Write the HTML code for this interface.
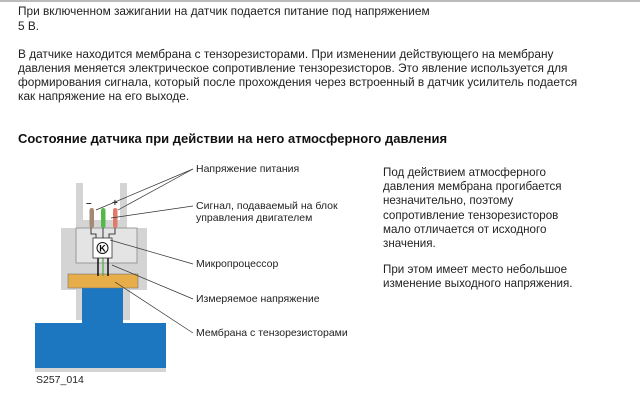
<!DOCTYPE html>
<html><head><meta charset="utf-8"><style>
body{margin:0;width:640px;height:412px;background:#fff;position:relative;overflow:hidden;font-family:"Liberation Sans","DejaVu Sans",sans-serif;color:#222}
.t{position:absolute;font-size:11.85px;white-space:nowrap;line-height:14px}
.r{position:absolute;font-size:11.6px;white-space:nowrap;line-height:14px}
.h{position:absolute;font-size:13px;font-weight:bold;white-space:nowrap;color:#111}
.l{position:absolute;font-size:10.5px;white-space:nowrap;line-height:12px}
</style></head><body>
<div style="position:absolute;left:0;top:0;width:640px;height:2px;background:#bbb"></div>
<div class="t" style="left:18px;top:4px">При включенном зажигании на датчик подается питание под напряжением</div>
<div class="t" style="left:18px;top:19px">5 В.</div>
<div class="t" style="left:18px;top:47px">В датчике находится мембрана с тензорезисторами. При изменении действующего на мембрану</div>
<div class="t" style="left:18px;top:61px">давления меняется электрическое сопротивление тензорезисторов. Это явление используется для</div>
<div class="t" style="left:18px;top:75px">формирования сигнала, который после прохождения через встроенный в датчик усилитель подается</div>
<div class="t" style="left:18px;top:89px">как напряжение на его выходе.</div>
<div class="h" style="left:18px;top:131px">Состояние датчика при действии на него атмосферного давления</div>

<div class="r" style="left:383px;top:166px">Под действием атмосферного</div>
<div class="r" style="left:383px;top:180px">давления мембрана прогибается</div>
<div class="r" style="left:383px;top:194px">незначительно, поэтому</div>
<div class="r" style="left:383px;top:209px">сопротивление тензорезисторов</div>
<div class="r" style="left:383px;top:223px">мало отличается от исходного</div>
<div class="r" style="left:383px;top:237px">значения.</div>
<div class="r" style="left:383px;top:263px">При этом имеет место небольшое</div>
<div class="r" style="left:383px;top:277px">изменение выходного напряжения.</div>

<svg style="position:absolute;left:0;top:0" width="640" height="412">
<path d="M76,183 H83 V220 H120 V183 H127 V228 H147 V290 H130 V320 H76 V290 H61 V228 H76 Z" fill="#d4d4d4"/>
<rect x="35" y="368" width="131" height="4" fill="#d4d4d4"/>
<rect x="76" y="228" width="61" height="35" fill="#e4e4e4" stroke="#888" stroke-width="0.8"/>
<rect x="82" y="288" width="41" height="35" fill="#1c76c0"/>
<rect x="35" y="323" width="131" height="45" fill="#1c76c0"/>
<rect x="68" y="274" width="70" height="14" fill="#e7ad48" stroke="#777" stroke-width="0.6"/>
<line x1="98" y1="258" x2="98" y2="276" stroke="#111" stroke-width="1.5"/>
<line x1="103" y1="258" x2="103" y2="276" stroke="#4caa3c" stroke-width="1.2"/>
<line x1="108" y1="258" x2="108" y2="276" stroke="#111" stroke-width="1.5"/>
<path d="M91,228 V234 H96 V238 M103,228 V238 M115,228 V234 H109 V238" fill="none" stroke="#111" stroke-width="0.8"/>
<rect x="89.5" y="208" width="4.5" height="20" rx="2.2" fill="#a48a74"/>
<rect x="101" y="208" width="4.5" height="20" rx="2.2" fill="#55b84a"/>
<rect x="113" y="208" width="4.5" height="20" rx="2.2" fill="#e07a6a"/>
<text x="86" y="206" font-size="10" font-family="Liberation Sans" font-weight="bold" fill="#333">–</text>
<text x="112" y="206" font-size="10" font-family="Liberation Sans" font-weight="bold" fill="#333">+</text>
<rect x="93" y="238" width="19" height="20" fill="#fff" stroke="#333" stroke-width="0.8"/>
<circle cx="102.5" cy="248" r="5.5" fill="#fff" stroke="#111" stroke-width="1"/>
<text x="102.5" y="251.5" font-size="9" font-family="Liberation Sans" font-weight="bold" text-anchor="middle">K</text>
<g stroke="#333" stroke-width="0.7" fill="none">
<line x1="193" y1="169" x2="96" y2="210"/>
<line x1="193" y1="169" x2="118" y2="210"/>
<line x1="193" y1="206" x2="111" y2="218"/>
<line x1="193" y1="264" x2="110" y2="240"/>
<line x1="193" y1="299" x2="112" y2="265"/>
<line x1="193" y1="333" x2="115" y2="282"/>
</g>
</svg>
<div class="l" style="left:196px;top:163px">Напряжение питания</div>
<div class="l" style="left:196px;top:200px">Сигнал, подаваемый на блок</div>
<div class="l" style="left:196px;top:212px">управления двигателем</div>
<div class="l" style="left:196px;top:258px">Микропроцессор</div>
<div class="l" style="left:196px;top:293px">Измеряемое напряжение</div>
<div class="l" style="left:196px;top:327px">Мембрана с тензорезисторами</div>
<div class="l" style="left:36px;top:374px">S257_014</div>
</body></html>
